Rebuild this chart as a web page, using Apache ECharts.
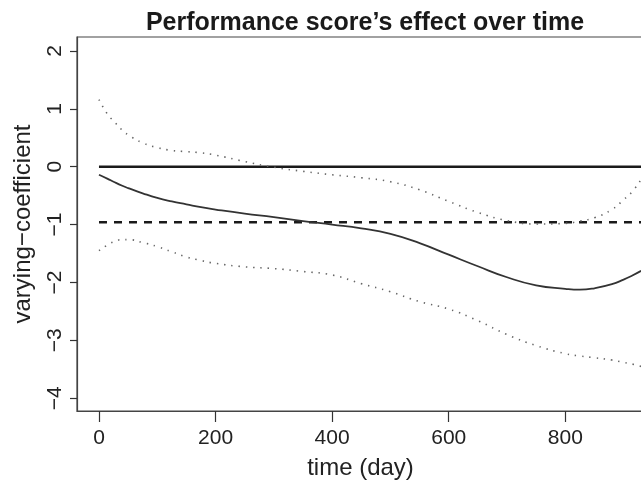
<!DOCTYPE html>
<html>
<head>
<meta charset="utf-8">
<script src="https://cdn.jsdelivr.net/npm/echarts@6/dist/echarts.min.js"></script>
<style>
  html, body { margin: 0; padding: 0; background: #fff; }
  #chart { width: 641px; height: 483px; }
</style>
</head>
<body>
<div id="chart"></div>
<script>
// time points (day) the curves were read at
var days = [0, 15, 25, 40, 50, 75, 100, 125, 150, 175, 200, 250, 300, 350, 400, 450, 500, 550, 600, 650, 700, 750, 800, 825, 850, 880, 900, 915, 930];
// estimated varying coefficient
var coefEst = [-0.14, -0.21, -0.26, -0.33, -0.37, -0.46, -0.54, -0.60, -0.65, -0.70, -0.74, -0.81, -0.87, -0.94, -1.00, -1.065, -1.16, -1.32, -1.52, -1.72, -1.91, -2.05, -2.11, -2.125, -2.10, -2.03, -1.95, -1.88, -1.80];
// pointwise bands (dotted)
var coefUpper = [1.16, 0.90, 0.79, 0.63, 0.55, 0.41, 0.33, 0.28, 0.26, 0.24, 0.20, 0.09, -0.01, -0.08, -0.14, -0.19, -0.26, -0.40, -0.60, -0.79, -0.93, -0.99, -0.98, -0.94, -0.88, -0.74, -0.57, -0.43, -0.22];
var coefLower = [-1.45, -1.35, -1.30, -1.26, -1.26, -1.31, -1.38, -1.47, -1.56, -1.62, -1.67, -1.73, -1.76, -1.81, -1.87, -2.02, -2.16, -2.33, -2.46, -2.66, -2.90, -3.09, -3.23, -3.27, -3.30, -3.34, -3.38, -3.41, -3.45];
// reference lines
var zeroLevel = 0;
var constLevel = -0.96;
var xTicks = [0, 200, 400, 600, 800];
var yTicks = [-4, -3, -2, -1, 0, 1, 2];

var pairs = function (ys) {
  return days.map(function (d, i) { return [d, ys[i]]; });
};
var lastDay = days[days.length - 1];
var font = 'Liberation Sans, Arial, Helvetica, sans-serif';

var chart = echarts.init(document.getElementById('chart'));
var option = {
  animation: false,
  backgroundColor: '#fff',
  title: {
    text: 'Performance score\u2019s effect over time',
    left: 360,
    top: 6,
    textAlign: 'center',
    textStyle: { fontFamily: font, fontSize: 25, fontWeight: 'bold', color: '#1a1a1a' }
  },
  grid: {
    left: 77,
    top: 37,
    right: -3,
    bottom: 72,
    show: true,
    borderColor: '#444',
    borderWidth: 1.2,
    containLabel: false,
    outerBoundsMode: 'none'
  },
  xAxis: {
    type: 'value',
    min: -37.7,
    max: 935,
    name: 'time (day)',
    nameLocation: 'middle',
    nameGap: 45,
    nameTextStyle: { fontFamily: font, fontSize: 24, color: '#222' },
    axisLine: { show: true, onZero: false, lineStyle: { color: '#444', width: 1.2 } },
    axisTick: { show: true, length: 11, customValues: xTicks, lineStyle: { color: '#333', width: 1.2 } },
    axisLabel: { customValues: xTicks, margin: 17, fontFamily: font, fontSize: 21, color: '#222' },
    splitLine: { show: false }
  },
  yAxis: {
    type: 'value',
    min: -4.22,
    max: 2.24,
    name: 'varying\u2212coefficient',
    nameLocation: 'middle',
    nameGap: 42,
    nameTextStyle: { fontFamily: font, fontSize: 24, color: '#222' },
    axisLine: { show: true, onZero: false, lineStyle: { color: '#444', width: 1.2 } },
    axisTick: { show: true, length: 7, customValues: yTicks, lineStyle: { color: '#333', width: 1.2 } },
    axisLabel: {
      customValues: yTicks,
      rotate: 90,
      margin: 11,
      fontFamily: font,
      fontSize: 21,
      color: '#222',
      formatter: function (v) { return String(v).replace('-', '\u2212'); }
    },
    splitLine: { show: false }
  },
  series: [
    {
      name: 'zero',
      type: 'line',
      data: [[0, zeroLevel], [lastDay, zeroLevel]],
      symbol: 'none',
      lineStyle: { color: '#1a1a1a', width: 2.4 }
    },
    {
      name: 'constant',
      type: 'line',
      data: [[0, constLevel], [lastDay, constLevel]],
      symbol: 'none',
      lineStyle: { color: '#1a1a1a', width: 2.4, type: [8, 7] }
    },
    {
      name: 'estimate',
      type: 'line',
      data: pairs(coefEst),
      smooth: true,
      symbol: 'none',
      lineStyle: { color: '#333', width: 1.8 }
    },
    {
      name: 'upper',
      type: 'line',
      data: pairs(coefUpper),
      smooth: true,
      symbol: 'none',
      lineStyle: { color: '#666', width: 1.6, type: [1.4, 5.9] }
    },
    {
      name: 'lower',
      type: 'line',
      data: pairs(coefLower),
      smooth: true,
      symbol: 'none',
      lineStyle: { color: '#666', width: 1.6, type: [1.4, 5.9] }
    }
  ]
};
chart.setOption(option);
</script>
</body>
</html>
